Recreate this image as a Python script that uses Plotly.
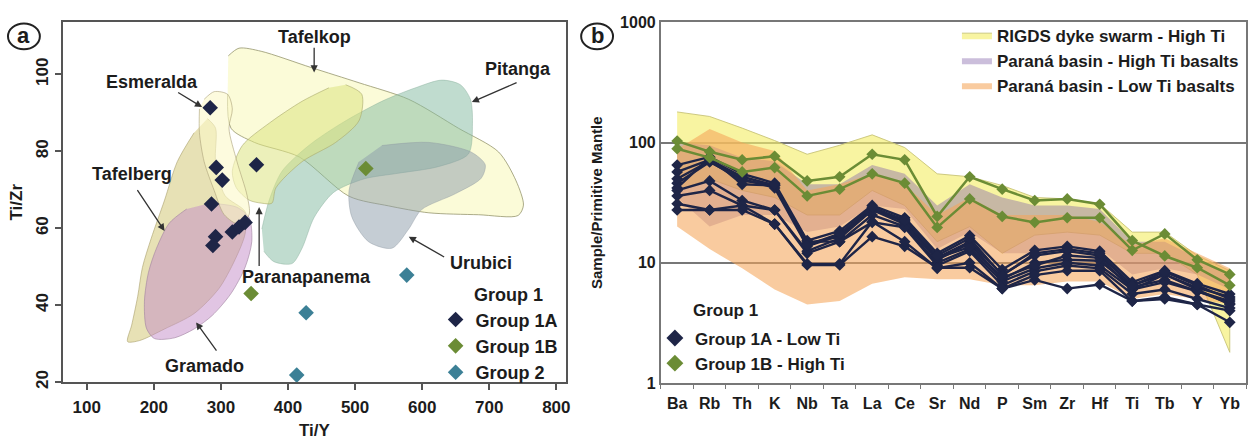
import plotly.graph_objects as go

FONT = "Liberation Sans, Arial, sans-serif"
TXT = "#1c1c1c"

# ---------------- Panel a data ----------------
g1a_tiy = [284, 293, 302, 353, 286, 292, 288, 317, 327, 336]
g1a_tizr = [91.3, 75.8, 72.5, 76.5, 66.3, 57.8, 55.5, 59.0, 60.3, 61.5]
g1b_tiy = [516, 345]
g1b_tizr = [75.5, 43.0]
g2_tiy = [577, 427, 413]
g2_tizr = [47.8, 38.0, 21.8]

tafelkop_x = [311, 327, 360, 434, 506, 580, 654, 714, 740, 751, 743, 684, 610, 550, 491, 417, 350, 315, 310]
tafelkop_y = [104.8, 106.8, 106, 101.8, 97.8, 93.5, 86, 79.8, 72.3, 66, 63.3, 63.5, 64, 65.8, 68.3, 78.5, 82.3, 86, 94.8]
pitanga_x = [364, 379, 406, 421, 439, 468, 513, 565, 624, 669, 675, 672, 657, 629, 590, 540, 480, 431, 391, 372, 361]
pitanga_y = [54, 51.3, 50.8, 54.8, 62.8, 69.3, 72.8, 74.3, 76, 79.3, 87.3, 93.5, 97.3, 98.5, 96.5, 93, 87.3, 81.5, 74.8, 67.3, 59.8]
urubici_x = [540, 610, 673, 694, 688, 650, 599, 580, 555, 520, 495, 491, 506]
urubici_y = [81.5, 82.3, 79.8, 76.5, 73, 69, 64.8, 59.8, 54.8, 56.5, 63, 69.8, 77.3]
parana_x = [486, 510, 506, 471, 421, 382, 376, 361, 342, 323, 317, 332, 372, 421, 461]
parana_y = [97.3, 94.8, 88, 82.3, 77.3, 70.5, 66.5, 66.5, 67.3, 70.5, 74.8, 81.5, 87.3, 93, 96.5]
tafelberg_x = [280, 292, 292, 306, 336, 336, 321, 297, 260, 216, 179, 161, 167, 176, 183, 196, 216, 235, 260]
tafelberg_y = [88.5, 86, 77.3, 68.5, 64.3, 58.5, 51.8, 44.3, 37.8, 33.8, 30.8, 30.5, 34.8, 42.3, 49.8, 57.3, 67.3, 77.3, 84.8]
gramado_x = [283, 323, 342, 346, 336, 315, 287, 260, 231, 201, 189, 186, 192, 204, 223, 249]
gramado_y = [66.5, 65.5, 62.8, 56.5, 49.8, 43, 37.3, 33.8, 31.5, 31.3, 34, 41, 48.5, 54.8, 61.3, 65]
esmeralda_x = [275, 290, 310, 317, 312, 324, 339, 342, 327, 305, 290, 275, 268, 268]
esmeralda_y = [93.5, 95.5, 94.8, 91, 86, 77.3, 68.5, 63.5, 61, 63.5, 69.8, 77.3, 84.8, 91]

# ---------------- Panel b data ----------------
elements = ["Ba", "Rb", "Th", "K", "Nb", "Ta", "La", "Ce", "Sr", "Nd", "P", "Sm", "Zr", "Hf", "Ti", "Tb", "Y", "Yb"]

rigds_upper = [180, 165, 132, 104, 80, 95, 116, 91, 55, 52, 44, 35, 34, 31, 18, 18, 11.5, 8.6]
rigds_lower = [40, 50, 40, 35, 25, 25, 40, 30, 15, 20, 12, 17, 18, 17, 12, 12, 8, 1.8]
hiti_upper = [100, 95, 75, 70, 45, 45, 65, 55, 30, 45, 35, 30, 30, 28, 15, 15, 11, 8]
hiti_lower = [35, 20, 25, 25, 18, 20, 30, 28, 13, 18, 12, 12, 13, 13, 8, 9, 8, 6]
loti_upper = [88, 130, 100, 85, 40, 45, 55, 45, 25, 35, 25, 25, 25, 22, 14, 16, 12, 9]
loti_lower = [20, 13, 9, 6, 4.5, 4.8, 6.7, 7.6, 7.3, 7.3, 6.5, 6.5, 7, 7, 5, 5.5, 5, 4.5]

g1b_s1 = [103, 84, 72, 77, 48, 52, 80, 72, 24.3, 52, 41, 33, 34, 30.7, 15.3, 11.4, 9.1, 6.5]
g1b_s2 = [89, 75, 57, 62, 36, 41, 55, 46, 19.7, 34, 24.3, 21.7, 23.7, 23.7, 12.7, 17.4, 10.6, 8.0]

g1a_s1 = [65, 76, 55, 46, 15.3, 18.4, 30, 23.7, 12, 16.8, 8.8, 12.7, 13.7, 12.5, 6.9, 8.6, 6.7, 5.5]
g1a_s2 = [57, 72, 52, 44, 14.5, 16.5, 28, 22, 11, 15, 8, 11.5, 12.5, 11.5, 6.5, 8, 6.2, 5.2]
g1a_s3 = [46, 69, 50, 42, 13.7, 17, 27.5, 21, 10.6, 14.5, 7.3, 10, 10.6, 10.4, 6.3, 7.2, 5.8, 4.8]
g1a_s4 = [42, 75, 45, 44, 15, 15, 25, 20, 10, 13, 7, 9, 10, 9.5, 6, 6.9, 5.8, 4.6]
g1a_s5 = [40, 48, 33, 27.5, 12, 15, 21.7, 19.7, 9.5, 12.5, 6.5, 8.5, 9.5, 9, 5.5, 6, 5, 4.2]
g1a_s6 = [36, 40, 30, 27.5, 12.5, 16, 27.5, 23, 11, 13.5, 7.5, 9.5, 11.5, 11, 6, 8, 6, 4.5]
g1a_s7 = [31, 27.5, 30, 21, 9.6, 9.6, 16.5, 13.7, 9.1, 9.1, 6.1, 7.2, 6.1, 6.6, 4.8, 5, 4.5, 3.2]
g1a_s8 = [27.5, 27.5, 27.5, 21, 9.8, 9.8, 22, 15, 9, 10, 6.1, 7.9, 8.6, 8.6, 4.8, 5.2, 4.5, 4.0]
g1a_s9 = [50, 70, 48, 45, 14, 17.5, 29, 22.5, 11.5, 16, 7.8, 12, 13, 12, 6.5, 8.4, 6.5, 5.0]

C1A = "#1e2547"
C1B = "#6b8c35"
C2 = "#3c8096"

fig = go.Figure()

# ---- Panel a fields ----
fields = [
    (tafelkop_x, tafelkop_y, "rgba(248,248,190,0.6)", "rgba(150,150,110,0.8)"),
    (pitanga_x, pitanga_y, "rgba(130,185,160,0.5)", "rgba(130,170,150,0.4)"),
    (urubici_x, urubici_y, "rgba(140,155,170,0.5)", "rgba(140,150,160,0.4)"),
    (parana_x, parana_y, "rgba(220,228,130,0.55)", "rgba(170,170,110,0.6)"),
    (tafelberg_x, tafelberg_y, "rgba(212,200,120,0.55)", "rgba(170,160,110,0.6)"),
    (gramado_x, gramado_y, "rgba(195,140,200,0.5)", "rgba(160,130,160,0.6)"),
    (esmeralda_x, esmeralda_y, "rgba(252,248,200,0.6)", "rgba(170,160,120,0.6)"),
]
for fx, fy, fc, lc in fields:
    fig.add_trace(go.Scatter(x=fx, y=fy, fill="toself", fillcolor=fc, mode="lines",
                             line=dict(color=lc, width=1, shape="spline", smoothing=0.8),
                             showlegend=False, hoverinfo="skip", xaxis="x", yaxis="y"))

mk = dict(symbol="diamond", size=12)
fig.add_trace(go.Scatter(x=g1a_tiy, y=g1a_tizr, mode="markers", name="Group 1A",
                         marker=dict(color=C1A, **mk), xaxis="x", yaxis="y", legend="legend"))
fig.add_trace(go.Scatter(x=g1b_tiy, y=g1b_tizr, mode="markers", name="Group 1B",
                         marker=dict(color=C1B, **mk), xaxis="x", yaxis="y", legend="legend"))
fig.add_trace(go.Scatter(x=g2_tiy, y=g2_tizr, mode="markers", name="Group 2",
                         marker=dict(color=C2, **mk), xaxis="x", yaxis="y", legend="legend"))

# ---- Panel b envelopes ----
env = [
    ("RIGDS dyke swarm - High Ti", rigds_upper, rigds_lower, "rgba(245,238,110,0.65)", "rgba(200,195,120,0.9)"),
    ("Paraná basin - High Ti basalts", hiti_upper, hiti_lower, "rgba(130,100,170,0.42)", "rgba(0,0,0,0)"),
    ("Paraná basin - Low Ti basalts", loti_upper, loti_lower, "rgba(245,165,90,0.58)", "rgba(0,0,0,0)"),
]
for nm, up, lo, fc, lc in env:
    fig.add_trace(go.Scatter(x=elements + elements[::-1], y=up + lo[::-1], fill="toself",
                             fillcolor=fc, mode="lines", line=dict(color=lc, width=1),
                             name=nm, xaxis="x2", yaxis="y2", legend="legend3", hoverinfo="skip"))

for s in [g1a_s1, g1a_s2, g1a_s3, g1a_s4, g1a_s5, g1a_s6, g1a_s7, g1a_s8, g1a_s9]:
    fig.add_trace(go.Scatter(x=elements, y=s, mode="lines+markers", showlegend=False,
                             line=dict(color=C1A, width=2.4),
                             marker=dict(symbol="diamond", size=9, color=C1A),
                             xaxis="x2", yaxis="y2"))
for s in [g1b_s1, g1b_s2]:
    fig.add_trace(go.Scatter(x=elements, y=s, mode="lines+markers", showlegend=False,
                             line=dict(color=C1B, width=2.5),
                             marker=dict(symbol="diamond", size=9, color=C1B),
                             xaxis="x2", yaxis="y2"))
fig.add_trace(go.Scatter(x=[None], y=[None], mode="markers", name="Group 1A - Low Ti",
                         marker=dict(symbol="diamond", size=13, color=C1A),
                         xaxis="x2", yaxis="y2", legend="legend2"))
fig.add_trace(go.Scatter(x=[None], y=[None], mode="markers", name="Group 1B - High Ti",
                         marker=dict(symbol="diamond", size=13, color=C1B),
                         xaxis="x2", yaxis="y2", legend="legend2"))

# ---- annotations ----
ann = []
def lab(text, x, y, xr="x", yr="y", size=18):
    ann.append(dict(text=text, x=x, y=y, xref=xr, yref=yr, showarrow=False,
                    xanchor="center", yanchor="middle",
                    font=dict(family=FONT, size=size, color=TXT, weight="bold")))
def arr(hx, hy, tx, ty):
    ann.append(dict(text="", x=hx, y=hy, ax=tx, ay=ty, xref="x", yref="y", axref="x", ayref="y",
                    showarrow=True, arrowhead=2, arrowsize=1.1, arrowwidth=1.3, arrowcolor="#333"))

lab("Esmeralda", 198, 98)
lab("Tafelkop", 440, 109.8)
lab("Pitanga", 743, 101.5)
lab("Tafelberg", 167, 74)
lab("Paranapanema", 427, 47.3)
lab("Gramado", 275, 24.3)
lab("Urubici", 688, 51)
lab("Group 1", 510 / 1256, 1 - 298 / 442, "paper", "paper")
lab("Group 1", 728 / 1256, 1 - 315 / 442, "paper", "paper", size=17)
arr(272, 91.5, 234, 95.5)
arr(439, 100.5, 439, 107.3)
arr(674, 92.8, 743, 98)
arr(216, 59.3, 174, 70.3)
arr(357, 65.5, 357, 49.8)
arr(263, 35.5, 295, 27.8)
arr(580, 57.8, 635, 52.3)

# circled panel letters
for cx, letter in [(24, "a"), (599, "b")]:
    fig.add_shape(type="circle", xref="paper", yref="paper",
                  x0=(cx - 16) / 1256, x1=(cx + 16) / 1256, y0=1 - 43 / 442, y1=1 - 16 / 442,
                  line=dict(color="#222", width=2))
    lab(letter, cx / 1256, 1 - 29 / 442, "paper", "paper", size=22)

axfont = dict(family=FONT, size=17, color=TXT, weight="bold")
fig.update_layout(
    width=1256, height=442, margin=dict(l=0, r=0, t=0, b=0),
    paper_bgcolor="white", plot_bgcolor="white",
    font=dict(family=FONT, color=TXT),
    annotations=ann,
    xaxis=dict(domain=[63 / 1256, 568 / 1256], range=[64.3, 814.7], tickvals=[100, 200, 300, 400, 500, 600, 700, 800],
               ticks="outside", ticklen=6, tickcolor="#555", tickwidth=2, showline=True, mirror=True,
               linecolor="#555", linewidth=2, showgrid=False, zeroline=False, tickfont=axfont,
               ticklabelstandoff=3,
               title=dict(text="Ti/Y", font=axfont, standoff=8)),
    yaxis=dict(domain=[1 - 389 / 442, 1 - 15 / 442], range=[20, 113.5], tickvals=[20, 40, 60, 80, 100],
               ticks="outside", ticklen=6, tickcolor="#555", tickwidth=2, showline=True, mirror=True,
               linecolor="#555", linewidth=2, showgrid=False, zeroline=False, tickfont=axfont, tickangle=-90,
               title=dict(text="Ti/Zr", font=axfont, standoff=6)),
    xaxis2=dict(domain=[663 / 1256, 1250 / 1256], type="category", categoryorder="array", categoryarray=elements,
                range=[-0.5, 17.5], tickson="boundaries", ticks="outside", ticklen=4, tickcolor="#777",
                tickangle=0, showline=True, mirror=True, linecolor="#777", linewidth=2, showgrid=False,
                ticklabelstandoff=5,
                tickfont=dict(family=FONT, size=16, color=TXT, weight="bold"), anchor="y2"),
    yaxis2=dict(domain=[1 - 390 / 442, 1 - 15 / 442], type="log", range=[0, 3], tickvals=[1, 10, 100, 1000],
                ticktext=["1", "10", "100", "1000"], ticks="", showline=True, mirror=True, linecolor="#777",
                linewidth=2, showgrid=True, gridcolor="#777", gridwidth=2, zeroline=False,
                tickfont=dict(family=FONT, size=16, color=TXT, weight="bold"), anchor="x2",
                title=dict(text="Sample/Primitive Mantle", font=dict(family=FONT, size=15, color=TXT, weight="bold"),
                           standoff=14)),
    legend=dict(x=437 / 1256, y=1 - 305 / 442, xanchor="left", yanchor="top", bgcolor="rgba(0,0,0,0)",
                font=dict(family=FONT, size=18, color=TXT, weight="bold"), tracegroupgap=0),
    legend2=dict(x=657 / 1256, y=1 - 325 / 442, xanchor="left", yanchor="top", bgcolor="rgba(0,0,0,0)",
                 font=dict(family=FONT, size=17, color=TXT, weight="bold")),
    legend3=dict(x=960 / 1256, y=1 - 10 / 442, xanchor="left", yanchor="top", bgcolor="rgba(0,0,0,0)",
                 font=dict(family=FONT, size=17, color=TXT, weight="bold")),
)

fig.write_html("out.html")
